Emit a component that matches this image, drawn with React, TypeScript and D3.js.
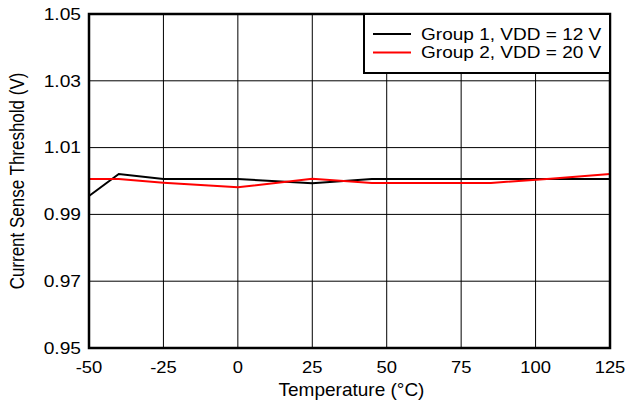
import React from "react";
import * as d3 from "d3";

const temps = [-50, -40, -25, 0, 25, 45, 65, 85, 105, 125];
const group1 = [0.9955, 1.0021, 1.0006, 1.0006, 0.9993, 1.0006, 1.0006, 1.0006, 1.0006, 1.0006];
const group2 = [1.0006, 1.0006, 0.9995, 0.9981, 1.0007, 0.9994, 0.9994, 0.9994, 1.0007, 1.0021];
const xTicks = [-50, -25, 0, 25, 50, 75, 100, 125];
const yTicks = [0.95, 0.97, 0.99, 1.01, 1.03, 1.05];
const seriesNames = ["Group 1, VDD = 12 V", "Group 2, VDD = 20 V"];
const seriesColors = ["#000000", "#ff0000"];

export default function App() {
  const W = 628, H = 400;
  const L = 89, R = 610, T = 14, B = 348;
  const x = d3.scaleLinear().domain([-50, 125]).range([L, R]);
  const y = d3.scaleLinear().domain([0.95, 1.05]).range([B, T]);
  const line = d3.line<number>().x((_, i) => x(temps[i])).y((d) => y(d));
  const font = "Arial, 'Liberation Sans', sans-serif";
  const series = [group1, group2];
  return (
    <svg width={W} height={H} style={{ position: "absolute", left: 0, top: 0 }} fontFamily={font}>
      <rect x={0} y={0} width={W} height={H} fill="#fff" />
      {xTicks.slice(1, -1).map((t) => (
        <line key={"gx" + t} x1={x(t)} x2={x(t)} y1={T} y2={B} stroke="#000" strokeWidth={1} />
      ))}
      {yTicks.slice(1, -1).map((t) => (
        <line key={"gy" + t} x1={L} x2={R} y1={y(t)} y2={y(t)} stroke="#000" strokeWidth={1} />
      ))}
      {series.map((s, i) => (
        <path key={"s" + i} d={line(s) || ""} fill="none" stroke={seriesColors[i]} strokeWidth={2} />
      ))}
      <rect x={L} y={T} width={R - L} height={B - T} fill="none" stroke="#000" strokeWidth={2.5} />
      {yTicks.map((t) => (
        <text
          key={"ty" + t}
          transform={`translate(${L - 8},${y(t)}) scale(1.2,1)`}
          dy="0.36em"
          textAnchor="end"
          fontSize={16}
        >
          {t.toFixed(2)}
        </text>
      ))}
      {xTicks.map((t) => (
        <text key={"tx" + t} transform={`translate(${x(t)},${B + 25}) scale(1.15,1)`} textAnchor="middle" fontSize={16}>
          {t}
        </text>
      ))}
      <text x={(L + R) / 2 + 2} y={396} textAnchor="middle" fontSize={19}>
        Temperature (°C)
      </text>
      <text transform={`translate(24,${(T + B) / 2}) rotate(-90) scale(1,1.15)`} textAnchor="middle" fontSize={17}>
        Current Sense Threshold (V)
      </text>
      <g>
        <rect x={364} y={T} width={R - 364} height={59} fill="#fff" stroke="#000" strokeWidth={2} />
        {seriesNames.map((n, i) => (
          <g key={"lg" + i}>
            <line x1={373} x2={411} y1={34 + i * 18.5} y2={34 + i * 18.5} stroke={seriesColors[i]} strokeWidth={2} />
            <text transform={`translate(421,${39.5 + i * 18.5}) scale(1.12,1)`} fontSize={17}>
              {n}
            </text>
          </g>
        ))}
      </g>
    </svg>
  );
}
